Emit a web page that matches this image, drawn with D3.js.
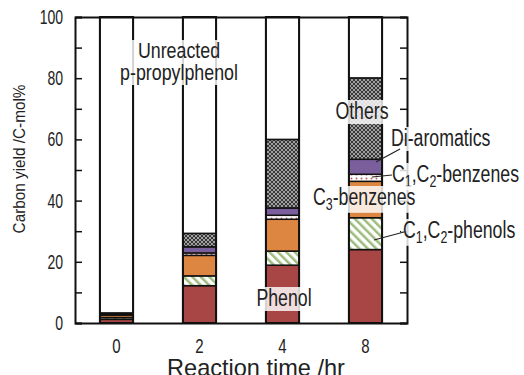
<!DOCTYPE html>
<html>
<head>
<meta charset="utf-8">
<script src="https://cdn.jsdelivr.net/npm/d3@7"></script>
<style>
  body { margin: 0; background: #fff; }
  svg text { font-family: "Liberation Sans", Arial, sans-serif; fill: #222; }
</style>
</head>
<body>
<div id="chart"></div>
<script>
// reaction times (hr)
const times = ['0', '2', '4', '8'];
// carbon yield, C-mol%
const phenol      = [1.2, 12.2, 18.9, 24.0];
const c12Phenols  = [0.6, 3.2, 4.6, 10.4];
const c3Benzenes  = [0.8, 6.7, 10.4, 11.9];
const c12Benzenes = [0.2, 0.8, 1.3, 2.3];
const diAromatics = [0.2, 2.0, 2.4, 4.9];
const others      = [0.3, 4.4, 22.4, 26.6];
const yTicks = [0, 20, 40, 60, 80, 100];

const keys = ['phenol', 'c12Phenols', 'c3Benzenes', 'c12Benzenes', 'diAromatics', 'others', 'unreacted'];
const rows = times.map((t, i) => {
  const r = {
    time: t,
    phenol: phenol[i], c12Phenols: c12Phenols[i], c3Benzenes: c3Benzenes[i],
    c12Benzenes: c12Benzenes[i], diAromatics: diAromatics[i], others: others[i]
  };
  r.unreacted = 100 - (phenol[i] + c12Phenols[i] + c3Benzenes[i] + c12Benzenes[i] + diAromatics[i] + others[i]);
  return r;
});

const width = 524, height = 375;
const margin = { top: 17, right: 117, bottom: 52, left: 75 };
const w = width - margin.left - margin.right;
const h = height - margin.top - margin.bottom;

// the original uses a condensed face; squeeze Liberation Sans horizontally
function squeeze(sel, k) {
  sel.each(function () {
    const len = this.getComputedTextLength();
    d3.select(this).attr('textLength', len * k).attr('lengthAdjust', 'spacingAndGlyphs');
  });
}

const svg = d3.select('#chart').append('svg')
  .attr('width', width)
  .attr('height', height);

// patterns
const defs = svg.append('defs');
const check = defs.append('pattern').attr('id', 'check')
  .attr('width', 4).attr('height', 4).attr('patternUnits', 'userSpaceOnUse');
check.append('rect').attr('width', 4).attr('height', 4).attr('fill', '#a0a0a0');
check.append('rect').attr('width', 2).attr('height', 2).attr('fill', '#383838');
check.append('rect').attr('x', 2).attr('y', 2).attr('width', 2).attr('height', 2).attr('fill', '#383838');

const hatch = defs.append('pattern').attr('id', 'hatch')
  .attr('width', 6).attr('height', 6).attr('patternUnits', 'userSpaceOnUse')
  .attr('patternTransform', 'rotate(-45)');
hatch.append('rect').attr('width', 6).attr('height', 6).attr('fill', '#fff');
hatch.append('rect').attr('width', 2.5).attr('height', 6).attr('fill', '#9dbb7c');

const dots = defs.append('pattern').attr('id', 'dots')
  .attr('width', 5).attr('height', 4).attr('patternUnits', 'userSpaceOnUse');
dots.append('rect').attr('width', 5).attr('height', 4).attr('fill', '#fff');
dots.append('circle').attr('cx', 1.5).attr('cy', 1.5).attr('r', 1).attr('fill', '#c45a5a');

const fills = {
  phenol: '#a84645',
  c12Phenols: 'url(#hatch)',
  c3Benzenes: '#dd8641',
  c12Benzenes: 'url(#dots)',
  diAromatics: '#7b5f9c',
  others: 'url(#check)',
  unreacted: '#fff'
};

const g = svg.append('g').attr('transform', `translate(${margin.left},${margin.top})`);

const x = d3.scaleBand().domain(times).range([0, w]).paddingInner(0.6).paddingOuter(0.3);
const y = d3.scaleLinear().domain([0, 100]).range([h, 0]);

const series = d3.stack().keys(keys)(rows);

g.selectAll('.layer')
  .data(series)
  .enter().append('g')
  .attr('class', 'layer')
  .attr('fill', d => fills[d.key])
  .selectAll('rect')
  .data(d => d)
  .enter().append('rect')
  .attr('x', d => x(d.data.time))
  .attr('y', d => y(d[1]))
  .attr('width', x.bandwidth())
  .attr('height', d => y(d[0]) - y(d[1]))
  .attr('stroke', '#111')
  .attr('stroke-width', 1.5);

// bar outlines
g.selectAll('.outline')
  .data(rows)
  .enter().append('rect')
  .attr('class', 'outline')
  .attr('x', d => x(d.time))
  .attr('y', y(100))
  .attr('width', x.bandwidth())
  .attr('height', y(0) - y(100))
  .attr('fill', 'none')
  .attr('stroke', '#111')
  .attr('stroke-width', 2);

// axes
const tickVals = d3.range(0, 101, 10);
const axLeft = g.append('g')
  .call(d3.axisLeft(y).tickValues(tickVals).tickSize(-7).tickPadding(12)
    .tickFormat(d => yTicks.includes(d) ? d : ''));
const axRight = g.append('g').attr('transform', `translate(${w},0)`)
  .call(d3.axisRight(y).tickValues(tickVals).tickSize(-7).tickFormat(''));
const axBottom = g.append('g').attr('transform', `translate(0,${h})`)
  .call(d3.axisBottom(x).tickSize(0).tickPadding(16));
const axTop = g.append('g')
  .call(d3.axisTop(x).tickSize(0).tickFormat(''));
[axLeft, axRight, axBottom, axTop].forEach(a => {
  a.select('.domain').attr('stroke', '#111').attr('stroke-width', 2);
  a.selectAll('.tick line').attr('stroke', '#111').attr('stroke-width', 1.5);
  a.selectAll('text').style('font-size', '20px').attr('fill', '#222');
});
squeeze(axLeft.selectAll('text'), 0.7);
squeeze(axBottom.selectAll('text'), 0.75);

const xTitle = svg.append('text')
  .attr('x', 256).attr('y', 376)
  .attr('text-anchor', 'middle')
  .style('font-size', '24px')
  .text('Reaction time /hr');
squeeze(xTitle, 0.98);

const yTitle = svg.append('text')
  .attr('transform', 'translate(25,159) rotate(-90)')
  .attr('text-anchor', 'middle')
  .style('font-size', '17px')
  .text('Carbon yield /C-mol%');
squeeze(yTitle, 0.9);

// annotations
const ann = svg.append('g');
function label(lines, cx, cy, anchor, size, k) {
  const t = ann.append('text')
    .attr('text-anchor', anchor)
    .style('font-size', size + 'px');
  lines.forEach((ln, i) => {
    const tsp = t.append('tspan').attr('x', cx).attr('y', cy + i * 22);
    ln.forEach(part => {
      const s = tsp.append('tspan').text(part.t);
      if (part.sub) s.attr('baseline-shift', '-30%').style('font-size', (size * 0.7) + 'px');
    });
    squeeze(tsp, k);
  });
  const b = t.node().getBBox();
  ann.insert('rect', () => t.node())
    .attr('x', b.x - 2).attr('y', b.y + 2)
    .attr('width', b.width + 4).attr('height', b.height - 2)
    .attr('fill', '#fff').attr('fill-opacity', 0.82);
  return t;
}
function leader(x1, y1, x2, y2) {
  ann.append('line').attr('x1', x1).attr('y1', y1).attr('x2', x2).attr('y2', y2)
    .attr('stroke', '#222').attr('stroke-width', 1.2);
}

label([[{ t: 'Unreacted' }], [{ t: 'p-propylphenol' }]], 179, 58, 'middle', 22, 0.81);
label([[{ t: 'Others' }]], 362, 119, 'middle', 23, 0.77);
label([[{ t: 'Di-aromatics' }]], 391, 146, 'start', 23, 0.77);
label([[{ t: 'C' }, { t: '1', sub: true }, { t: ',C' }, { t: '2', sub: true }, { t: '-benzenes' }]], 392, 182, 'start', 23, 0.77);
label([[{ t: 'C' }, { t: '3', sub: true }, { t: '-benzenes' }]], 313, 205, 'start', 23, 0.77);
label([[{ t: 'C' }, { t: '1', sub: true }, { t: ',C' }, { t: '2', sub: true }, { t: '-phenols' }]], 403, 238, 'start', 23, 0.77);
label([[{ t: 'Phenol' }]], 284, 306, 'middle', 23, 0.77);

leader(376, 162, 400, 149);
leader(372, 177, 392, 175);
leader(374, 240, 404, 232);
</script>
</body>
</html>
